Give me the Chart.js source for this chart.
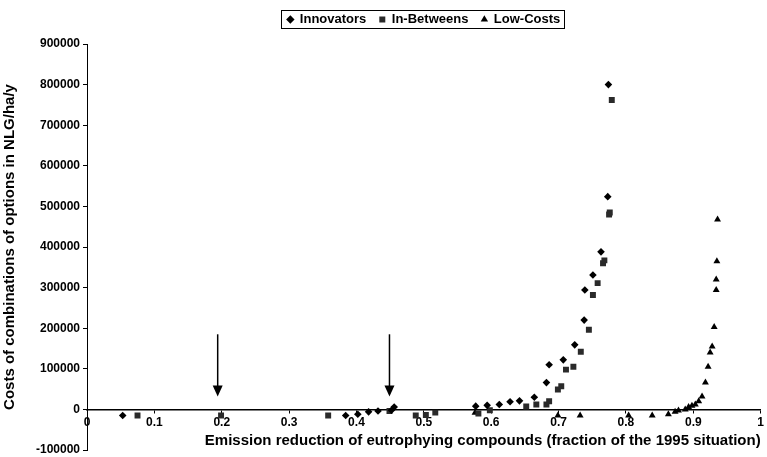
<!DOCTYPE html>
<html>
<head>
<meta charset="utf-8">
<script src="https://cdn.jsdelivr.net/npm/chart.js@4"></script>
<style>
  html, body { margin: 0; padding: 0; background: #fff; }
  #wrap { width: 767px; height: 457px; }
</style>
</head>
<body>
<div id="wrap"><canvas id="chart"></canvas></div>
<script>
// Data (x = fraction of 1995 emission, y = NLG/ha/y)
const innovatorsX = [0.053, 0.384, 0.402, 0.418, 0.432, 0.452, 0.456, 0.577, 0.594, 0.612, 0.628, 0.642, 0.664, 0.682, 0.686, 0.707, 0.724, 0.738, 0.739, 0.751, 0.763, 0.773, 0.774];
const innovatorsY = [-15000, -15000, -12000, -6000, -4000, -2000, 6000, 8000, 10000, 12000, 19000, 21000, 30000, 66000, 110000, 122000, 159000, 220000, 294000, 331000, 388000, 524000, 800000];

const inBetweensX = [0.075, 0.199, 0.358, 0.449, 0.488, 0.503, 0.517, 0.581, 0.598, 0.652, 0.667, 0.682, 0.686, 0.699, 0.704, 0.711, 0.722, 0.733, 0.745, 0.751, 0.758, 0.766, 0.768, 0.775, 0.776, 0.779];
const inBetweensY = [-15000, -15000, -15000, -4000, -15000, -14000, -8000, -10000, -2000, 7000, 12000, 12000, 20000, 49000, 57000, 98000, 105000, 142000, 196000, 282000, 311000, 360000, 367000, 480000, 485000, 762000];

const lowCostsX = [0.576, 0.699, 0.732, 0.804, 0.839, 0.863, 0.873, 0.878, 0.888, 0.893, 0.898, 0.903, 0.908, 0.913, 0.918, 0.922, 0.925, 0.928, 0.931, 0.934, 0.934, 0.935, 0.936];
const lowCostsY = [-8000, -15000, -15000, -15000, -15000, -12000, -6000, -3000, 0, 6000, 9000, 12000, 20000, 32000, 66000, 105000, 140000, 155000, 203000, 294000, 320000, 365000, 468000];

// axis ticks
const xTicks = [0, 0.1, 0.2, 0.3, 0.4, 0.5, 0.6, 0.7, 0.8, 0.9, 1];
const yTicks = [-100000, 0, 100000, 200000, 300000, 400000, 500000, 600000, 700000, 800000, 900000];

// the two arrows pointing down at the axis
const arrowX = [0.194, 0.449];
const arrowFrom = 185000;
const arrowTo = 32000;

const FONT = "'Liberation Sans', Arial, sans-serif";

function toPoints(xs, ys) {
    return xs.map((x, i) => ({ x: x, y: ys[i] }));
}

// arrows + a frame around the legend
const extras = {
    id: 'extras',
    afterInit(chart) {
        // leave a bit more room between legend and plot
        const lg = chart.legend;
        if (!lg) return;
        const fit = lg.fit;
        lg.fit = function () {
            fit.call(this);
            this.height += 8;
        };
    },
    afterDatasetsDraw(chart) {
        const ctx = chart.ctx;
        const xs = chart.scales.x, ys = chart.scales.y;
        ctx.save();
        ctx.strokeStyle = '#000';
        ctx.fillStyle = '#000';
        ctx.lineWidth = 1.5;
        arrowX.forEach(v => {
            const px = xs.getPixelForValue(v);
            const top = ys.getPixelForValue(arrowFrom);
            const tip = ys.getPixelForValue(arrowTo);
            ctx.beginPath();
            ctx.moveTo(px, top);
            ctx.lineTo(px, tip - 8);
            ctx.stroke();
            ctx.beginPath();
            ctx.moveTo(px - 5, tip - 11);
            ctx.lineTo(px + 5, tip - 11);
            ctx.lineTo(px, tip);
            ctx.closePath();
            ctx.fill();
        });
        ctx.restore();
    },
    afterDraw(chart) {
        const boxes = chart.legend && chart.legend.legendHitBoxes;
        if (!boxes || !boxes.length) return;
        const first = boxes[0], last = boxes[boxes.length - 1];
        const ctx = chart.ctx;
        ctx.save();
        ctx.strokeStyle = '#000';
        ctx.lineWidth = 1;
        const l = Math.round(first.left) - 5.5;
        const r = Math.round(last.left + last.width) + 4.5;
        const t = Math.round(first.top) - 2.5;
        const b = Math.round(first.top + first.height) + 2.5;
        ctx.strokeRect(l, t, r - l, b - t);
        ctx.restore();
    }
};

const ctx = document.getElementById('chart').getContext('2d');
new Chart(ctx, {
    type: 'scatter',
    data: {
        datasets: [
            {
                label: 'Innovators',
                data: toPoints(innovatorsX, innovatorsY),
                pointStyle: 'rectRot',
                pointRadius: 3.8,
                backgroundColor: '#000',
                borderColor: '#000',
                borderWidth: 0
            },
            {
                label: 'In-Betweens',
                data: toPoints(inBetweensX, inBetweensY),
                pointStyle: 'rect',
                pointRadius: 4.2,
                backgroundColor: '#2a2a2a',
                borderColor: '#2a2a2a',
                borderWidth: 0
            },
            {
                label: 'Low-Costs',
                data: toPoints(lowCostsX, lowCostsY),
                pointStyle: 'triangle',
                pointRadius: 4,
                backgroundColor: '#000',
                borderColor: '#000',
                borderWidth: 0
            }
        ]
    },
    options: {
        responsive: true,
        maintainAspectRatio: false,
        animation: false,
        layout: { padding: { top: 0, right: 1, bottom: 0, left: 0 } },
        plugins: {
            tooltip: { enabled: false },
            legend: {
                display: true,
                position: 'top',
                fullSize: false,
                labels: {
                    usePointStyle: true,
                    boxWidth: 6,
                    boxHeight: 6,
                    padding: 13,
                    color: '#000',
                    font: { family: FONT, size: 13, weight: 'bold' }
                }
            }
        },
        scales: {
            x: {
                type: 'linear',
                position: { y: 0 },
                min: 0,
                max: 1,
                afterBuildTicks: s => { s.ticks = xTicks.map(v => ({ value: v })); },
                afterFit: s => { s.height = 7; },
                ticks: {
                    color: '#000',
                    padding: 3,
                    maxRotation: 0,
                    font: { family: FONT, size: 12, weight: 'bold' },
                    callback: v => String(v)
                },
                grid: { drawOnChartArea: false, drawTicks: true, tickLength: 3, color: '#000' },
                border: { display: true, color: '#000', width: 1.5 },
                title: {
                    display: true,
                    text: 'Emission reduction of eutrophying compounds (fraction of the 1995 situation)',
                    align: 'end',
                    color: '#000',
                    font: { family: FONT, size: 15, weight: 'bold' },
                    padding: { top: 0, bottom: -33 }
                }
            },
            y: {
                type: 'linear',
                position: 'left',
                min: -100000,
                max: 900000,
                afterBuildTicks: s => { s.ticks = yTicks.map(v => ({ value: v })); },
                afterFit: s => { s.width = 87; s.paddingBottom = 7; },
                ticks: {
                    color: '#000',
                    padding: 3,
                    font: { family: FONT, size: 12, weight: 'bold' },
                    callback: v => String(v)
                },
                grid: { drawOnChartArea: false, drawTicks: true, tickLength: 4, color: '#000' },
                border: { display: true, color: '#000', width: 1 },
                title: {
                    display: true,
                    text: 'Costs of combinations of options in NLG/ha/y',
                    color: '#000',
                    font: { family: FONT, size: 15, weight: 'bold' },
                    padding: { top: 1, bottom: 0 }
                }
            }
        }
    },
    plugins: [extras]
});
</script>
</body>
</html>
